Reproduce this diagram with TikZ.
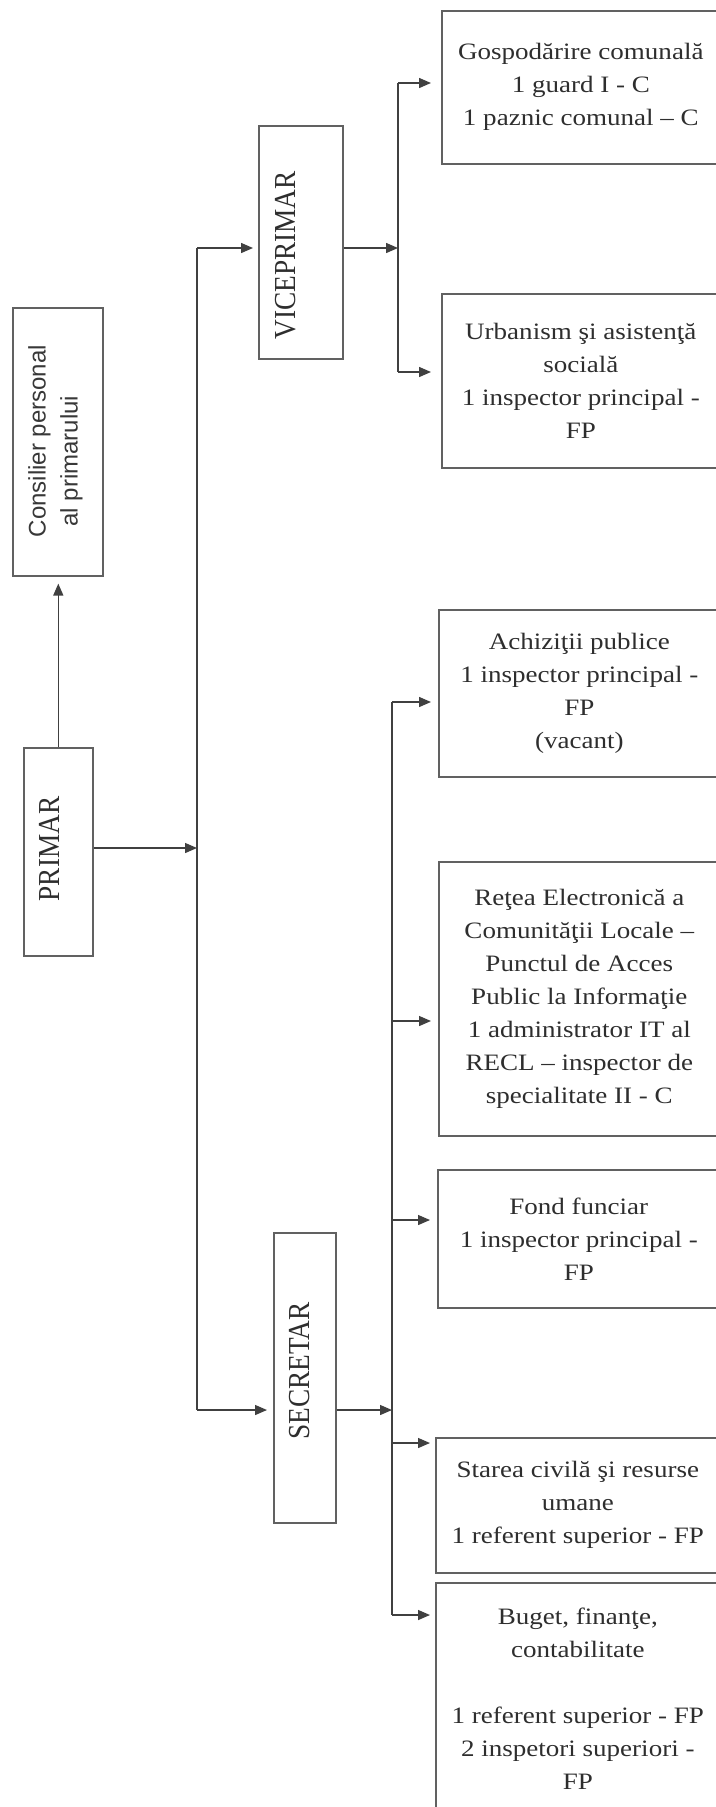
\documentclass[tikz,border=0pt]{standalone}
\usepackage{fontspec}
\setmainfont{Liberation Serif}
\newfontfamily\hfont{Liberation Serif}[FakeStretch=1.15]
\newfontfamily\vfont{Liberation Serif}[FakeStretch=0.895]
\newfontfamily\sfont{Liberation Sans}
\usetikzlibrary{arrows.meta}
\tikzset{
  box/.style={draw=black!62, line width=1.6pt, rectangle, inner sep=0pt, anchor=north west,
    align=center, font=\hfont\fontsize{23.5pt}{33pt}\selectfont, text=black!82},
  vbox/.style={draw=black!62, line width=1.6pt, rectangle, inner sep=0pt, anchor=north west},
  vtext/.style={rotate=90, inner sep=0pt, font=\vfont\fontsize{30.5pt}{36pt}\selectfont, text=black!82},
  stext/.style={rotate=90, inner sep=0pt, align=center, font=\sfont\fontsize{24pt}{32pt}\selectfont, text=black!78},
  conn/.style={draw=black!75, line width=1.4pt},
  arr/.style={conn, -{Triangle[length=12pt,width=10pt]}},
}
\begin{document}
\begin{tikzpicture}[x=1pt,y=-1pt]
\useasboundingbox (0,0) rectangle (715,1807);
\fill[white] (0,0) rectangle (715,1807);

% left column
\node[vbox, minimum width=90pt, minimum height=268pt] (cons) at (12,307) {};
\node[stext] (const) at (55.5,441) {Consilier personal\\al primarului\hspace*{40pt}};
\node[vbox, minimum width=69pt, minimum height=208pt] (primar) at (23,747) {};
\node[vtext] (primart) at (49,849) {PRIMAR};

% middle column
\node[vbox, minimum width=84pt, minimum height=233pt] (vice) at (258,125) {};
\node[vtext] (vicet) at (286,255.5) {VICEPRIMAR};
\node[vbox, minimum width=62pt, minimum height=290pt] (sec) at (273,1232) {};
\node[vtext] (sect) at (300,1371) {SECRETAR};

% right column
\node[box, minimum width=278pt, minimum height=153pt] (gosp) at (441,10)
  {Gospodărire comunală\\1 guard I - C\\1 paznic comunal – C};
\node[box, minimum width=278pt, minimum height=174pt] (urb) at (441,293)
  {Urbanism şi asistenţă\\socială\\1 inspector principal -\\FP};
\node[box, minimum width=281pt, minimum height=167pt] (achiz) at (438,609)
  {Achiziţii publice\\1 inspector principal -\\FP\\(vacant)};
\node[box, minimum width=281pt, minimum height=274pt] (retea) at (438,861)
  {Reţea Electronică a\\Comunităţii Locale –\\Punctul de Acces\\Public la Informaţie\\1 administrator IT al\\RECL – inspector de\\specialitate II - C};
\node[box, minimum width=282pt, minimum height=138pt] (fond) at (437,1169)
  {Fond funciar\\1 inspector principal -\\FP};
\node[box, minimum width=284pt, minimum height=135pt] (stare) at (435,1437)
  {Starea civilă şi resurse\\umane\\1 referent superior - FP};
\node[box, minimum width=284pt, minimum height=232pt] (buget) at (435,1582)
  {Buget, finanţe,\\contabilitate\\[33pt]1 referent superior - FP\\2 inspetori superiori -\\FP};

% connector points
\coordinate (pj) at (197,848);
\coordinate (tv) at (197,248);
\coordinate (ts) at (197,1410);
\coordinate (vb) at (398,248);
\coordinate (vb1) at (398,83);
\coordinate (vb2) at (398,372);
\coordinate (sb) at (392,1410);
\coordinate (sb1) at (392,702);
\coordinate (sb2) at (392,1021);
\coordinate (sb3) at (392,1220);
\coordinate (sb4) at (392,1443);
\coordinate (sb5) at (392,1615);

% connectors
\draw[arr, shorten >=7pt] (primar.north) -- (primar.north |- cons.south);
\draw[arr] (primar.east |- pj) -- (pj);
\draw[conn] (tv) -- (ts);
\draw[arr, shorten >=5pt] (tv) -- (tv -| vice.west);
\draw[arr, shorten >=6pt] (ts) -- (ts -| sec.west);

\draw[arr] (vice.east |- vb) -- (vb);
\draw[conn] (vb1) -- (vb2);
\draw[arr, shorten >=10pt] (vb1) -- (vb1 -| gosp.west);
\draw[arr, shorten >=10pt] (vb2) -- (vb2 -| urb.west);

\draw[arr] (sec.east |- sb) -- (sb);
\draw[conn] (sb1) -- (sb5);
\draw[arr, shorten >=7pt] (sb1) -- (sb1 -| achiz.west);
\draw[arr, shorten >=7pt] (sb2) -- (sb2 -| retea.west);
\draw[arr, shorten >=7pt] (sb3) -- (sb3 -| fond.west);
\draw[arr, shorten >=5pt] (sb4) -- (sb4 -| stare.west);
\draw[arr, shorten >=5pt] (sb5) -- (sb5 -| buget.west);
\end{tikzpicture}
\end{document}
